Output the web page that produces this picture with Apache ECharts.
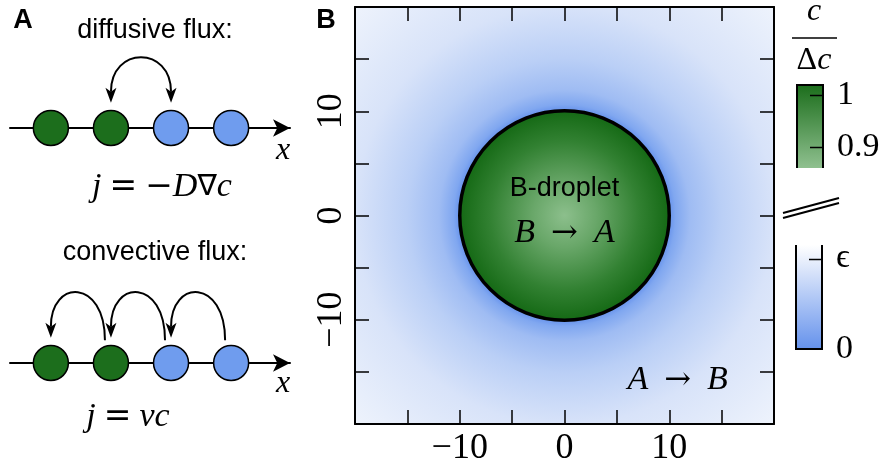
<!DOCTYPE html>
<html>
<head>
<meta charset="utf-8">
<script src="https://cdn.jsdelivr.net/npm/echarts@6/dist/echarts.min.js"></script>
<style>
  html, body { margin: 0; padding: 0; background: #fff; }
  #chart { width: 886px; height: 467px; }
</style>
</head>
<body>
<div id="chart"></div>
<script>
// ---- panel A: one-dimensional lattice ----
const sites = [1, 2, 3, 4];
const siteSpecies = ['B', 'B', 'A', 'A'];
const speciesColor = { B: '#1c6e1c', A: '#6f9cee' };
// hops as [from site, to site]
const diffusiveHops = [[2, 3]];
const convectiveHops = [[2, 1], [3, 2], [4, 3]];

// ---- panel B: droplet in its surrounding field ----
const fieldMin = -20;
const fieldMax = 20;
const fieldTickStep = 5;
const fieldLabelValues = [-10, 0, 10];
const dropletCentre = [0, 0];
const dropletRadius = 10;
// concentration outside the droplet, as colour stops over distance from the centre
const haloRadius = [10, 10.6, 12, 15, 20, 28.3];
const haloColor = ['#6692ec', '#80a7f0', '#9fbcf3', '#bacff6', '#d8e3f9', '#eef3fc'];
// inside the droplet, from centre (0) to rim (1)
const dropletStop = [0, 0.3, 0.7, 1];
const dropletColor = ['#8cbf8c', '#69a769', '#328132', '#136813'];

// ---- colour bars ----
const greenRange = [0.86, 1.02];
const greenTicks = [0.9, 1];
const greenColors = ['#8fc08f', '#1c6e1c'];   // bottom -> top
const blueRange = [0, 1.15];
const blueTicks = [1];
const blueLabelValues = [0, 1];
const blueLabelText = ['0', '\u03f5'];
const blueColors = ['#6592ec', '#ffffff'];    // bottom -> top

const SERIF = '"Liberation Serif", "DejaVu Serif", serif';
const SANS = '"Liberation Sans", Arial, sans-serif';
const OP_FONT = '"DejaVu Serif", serif';

const fmtMinus = v => (v < 0 ? '\u2212' + Math.abs(v) : String(v));

const chart = echarts.init(document.getElementById('chart'), null, { renderer: 'canvas' });

// frame axes of panel B
function fieldAxis(extra) {
  return Object.assign({
    gridIndex: 0, type: 'value', min: fieldMin, max: fieldMax, interval: fieldTickStep, z: 5,
    axisLine: { show: true, onZero: false, lineStyle: { color: '#000', width: 2 } },
    axisTick: { show: true, inside: true, length: 14, lineStyle: { color: '#000', width: 1.5 } },
    axisLabel: { show: false },
    splitLine: { show: false }
  }, extra);
}
const fieldLabel = {
  show: true, color: '#000', fontFamily: SERIF, fontSize: 36,
  formatter: v => (fieldLabelValues.indexOf(v) >= 0 ? fmtMinus(v) : '')
};

// lattice axes (the x arrow)
function latticeX(gi) {
  return {
    gridIndex: gi, type: 'value', min: 0.32, max: 4.98,
    axisLine: { show: true, onZero: false, symbol: ['none', 'arrow'], symbolSize: [13, 17],
      lineStyle: { color: '#000', width: 2 } },
    axisTick: { show: false }, axisLabel: { show: false }, splitLine: { show: false }
  };
}
function latticeY(gi) {
  return { gridIndex: gi, type: 'value', min: 0, max: 1.3, show: false };
}

// arch arrows between lattice sites
const HEAD_Y = 0.42, TAIL_Y = 0.38, TOP_Y = 1.18, TAIL_SHIFT = 0.1;
function arrowHead(tx, ty) {
  return {
    type: 'polygon',
    shape: { points: [[tx, ty], [tx - 5.5, ty - 15], [tx, ty - 11], [tx + 5.5, ty - 15]] },
    style: { fill: '#000' }
  };
}
function makeArchRenderer(both) {
  return function (params, api) {
    const from = api.value(0), to = api.value(1);
    const head = api.coord([to, HEAD_Y]);
    const tail = both ? api.coord([from, HEAD_Y]) : api.coord([from - TAIL_SHIFT, TAIL_Y]);
    const top = api.coord([0, TOP_Y])[1];
    const sy = both ? tail[1] - 11 : tail[1];
    const ey = head[1] - 11;
    const yc = (top - (sy + ey) / 8) / 0.75;
    const children = [{
      type: 'bezierCurve',
      shape: { x1: tail[0], y1: sy, cpx1: tail[0], cpy1: yc, cpx2: head[0], cpy2: yc, x2: head[0], y2: ey },
      style: { stroke: '#000', lineWidth: 2, fill: null }
    }, arrowHead(head[0], head[1])];
    if (both) children.push(arrowHead(tail[0], tail[1]));
    return { type: 'group', children: children };
  };
}

function siteData() {
  return sites.map((s, i) => ({ value: [s, 0], itemStyle: { color: speciesColor[siteSpecies[i]] } }));
}

// colour-bar body with an open end on the broken side, ticks on the right edge
function makeBarRenderer(range, colors, ticks, openTop) {
  return function (params, api) {
    const p0 = api.coord([0, range[1]]);
    const p1 = api.coord([1, range[0]]);
    const x0 = p0[0], y0 = p0[1], x1 = p1[0], y1 = p1[1];
    const border = openTop
      ? [[x0, y0], [x0, y1], [x1, y1], [x1, y0]]
      : [[x0, y1], [x0, y0], [x1, y0], [x1, y1]];
    const children = [{
      type: 'rect',
      shape: { x: x0, y: y0, width: x1 - x0, height: y1 - y0 },
      style: { fill: new echarts.graphic.LinearGradient(0, 1, 0, 0, [
        { offset: 0, color: colors[0] }, { offset: 1, color: colors[1] }]) }
    }, {
      type: 'polyline',
      shape: { points: border },
      style: { stroke: '#000', lineWidth: 2, fill: null }
    }];
    ticks.forEach(t => {
      const ty = Math.round(api.coord([1, t])[1]) + 0.5;
      children.push({
        type: 'line',
        shape: { x1: x1 - 13, y1: ty, x2: x1, y2: ty },
        style: { stroke: '#000', lineWidth: 1.5 }
      });
    });
    return { type: 'group', children: children };
  };
}

// rich-text styles for the formulas
const mathRich = {
  i: { fontStyle: 'italic', fontFamily: SERIF, fontSize: 34 },
  o: { fontFamily: OP_FONT, fontSize: 33 },
  a: { fontFamily: OP_FONT, fontSize: 32 },
  n: { fontFamily: '"Noto Sans", "DejaVu Sans", sans-serif', fontSize: 29 }
};
function mathText(x, y, text) {
  return { type: 'text', x: x, y: y, style: { text: text, fontFamily: SERIF, fontSize: 32,
    fill: '#000', align: 'center', verticalAlign: 'middle', rich: mathRich } };
}

const option = {
  animation: false,
  grid: [
    { left: 355, top: 7, width: 419, height: 419 },   // B: field
    { left: 10, top: 50, width: 280, height: 78 },    // A: diffusive
    { left: 10, top: 285, width: 280, height: 78 },   // A: convective
    { left: 797, top: 85, width: 26, height: 83 },    // green bar
    { left: 796, top: 245, width: 26, height: 104 }   // blue bar
  ],
  xAxis: [
    fieldAxis({ position: 'bottom', axisLabel: Object.assign({ margin: 7 }, fieldLabel) }),
    fieldAxis({ position: 'top' }),
    latticeX(1),
    latticeX(2),
    { gridIndex: 3, type: 'value', min: 0, max: 1, show: false },
    { gridIndex: 4, type: 'value', min: 0, max: 1, show: false }
  ],
  yAxis: [
    fieldAxis({ position: 'left', axisLabel: Object.assign({ margin: 5, rotate: 90 }, fieldLabel) }),
    fieldAxis({ position: 'right' }),
    latticeY(1),
    latticeY(2),
    {
      gridIndex: 3, type: 'value', position: 'right', min: greenRange[0], max: greenRange[1], z: 5,
      axisLine: { show: false },
      axisTick: { show: false },
      axisLabel: { show: true, customValues: greenTicks, margin: 14, color: '#000',
        fontFamily: SERIF, fontSize: 34, formatter: v => String(v) },
      splitLine: { show: false }
    },
    {
      gridIndex: 4, type: 'value', position: 'right', min: blueRange[0], max: blueRange[1], z: 5,
      axisLine: { show: false },
      axisTick: { show: false },
      axisLabel: { show: true, customValues: blueLabelValues, margin: 14, color: '#000',
        fontFamily: SERIF, fontSize: 34,
        formatter: v => blueLabelText[blueLabelValues.indexOf(v)] },
      splitLine: { show: false }
    }
  ],
  series: [
    {
      // concentration field around the droplet
      type: 'custom', xAxisIndex: 0, yAxisIndex: 0, silent: true, z: 1,
      data: [dropletCentre],
      renderItem: function (params, api) {
        const c = api.coord([api.value(0), api.value(1)]);
        const rMax = haloRadius[haloRadius.length - 1];
        const rPx = api.size([rMax, 0])[0];
        const cs = params.coordSys;
        const stops = haloRadius.map((r, i) => ({ offset: r / rMax, color: haloColor[i] }));
        stops.unshift({ offset: 0, color: haloColor[0] });
        return {
          type: 'rect',
          shape: { x: cs.x, y: cs.y, width: cs.width, height: cs.height },
          style: { fill: new echarts.graphic.RadialGradient(c[0], c[1], rPx, stops, true) }
        };
      }
    },
    {
      // the B-droplet
      type: 'custom', xAxisIndex: 0, yAxisIndex: 0, silent: true, z: 2,
      data: [dropletCentre],
      renderItem: function (params, api) {
        const c = api.coord([api.value(0), api.value(1)]);
        const r = api.size([dropletRadius, 0])[0];
        const stops = dropletStop.map((o, i) => ({ offset: o, color: dropletColor[i] }));
        const t1 = api.coord([0, 2.6]);
        const t2 = api.coord([0, -1.7]);
        const t3 = api.coord([10.8, -15.8]);
        return {
          type: 'group',
          children: [{
            type: 'circle',
            shape: { cx: c[0], cy: c[1], r: r },
            style: { fill: new echarts.graphic.RadialGradient(0.5, 0.5, 0.5, stops), stroke: '#000', lineWidth: 3.5 }
          }, {
            type: 'text', x: t1[0], y: t1[1],
            style: { text: 'B-droplet', fontFamily: SANS, fontSize: 27, fill: '#000',
              align: 'center', verticalAlign: 'middle' }
          },
          mathText(t2[0], t2[1], '{i|B}  {a|\u2192}  {i|A}'),
          mathText(t3[0], t3[1], '{i|A}  {a|\u2192}  {i|B}')]
        };
      }
    },
    // lattice sites
    {
      type: 'scatter', xAxisIndex: 2, yAxisIndex: 2, clip: false, z: 3, silent: true,
      symbol: 'circle', symbolSize: 35,
      itemStyle: { borderColor: '#000', borderWidth: 1.5, opacity: 1 },
      data: siteData()
    },
    {
      type: 'scatter', xAxisIndex: 3, yAxisIndex: 3, clip: false, z: 3, silent: true,
      symbol: 'circle', symbolSize: 35,
      itemStyle: { borderColor: '#000', borderWidth: 1.5, opacity: 1 },
      data: siteData()
    },
    // hops
    {
      type: 'custom', xAxisIndex: 2, yAxisIndex: 2, clip: false, silent: true, z: 3,
      data: diffusiveHops, renderItem: makeArchRenderer(true)
    },
    {
      type: 'custom', xAxisIndex: 3, yAxisIndex: 3, clip: false, silent: true, z: 3,
      data: convectiveHops, renderItem: makeArchRenderer(false)
    },
    // colour bars
    {
      type: 'custom', xAxisIndex: 4, yAxisIndex: 4, silent: true, z: 2,
      data: [greenRange], renderItem: makeBarRenderer(greenRange, greenColors, greenTicks, false)
    },
    {
      type: 'custom', xAxisIndex: 5, yAxisIndex: 5, silent: true, z: 2,
      data: [blueRange], renderItem: makeBarRenderer(blueRange, blueColors, blueTicks, true)
    }
  ],
  graphic: [
    // panel letters
    { type: 'text', x: 23, y: 21, style: { text: 'A', fontFamily: SANS, fontWeight: 'bold', fontSize: 27,
      fill: '#000', align: 'center', verticalAlign: 'middle' } },
    { type: 'text', x: 326, y: 21, style: { text: 'B', fontFamily: SANS, fontWeight: 'bold', fontSize: 27,
      fill: '#000', align: 'center', verticalAlign: 'middle' } },
    // panel A captions
    { type: 'text', x: 155, y: 31, style: { text: 'diffusive flux:', fontFamily: SANS, fontSize: 27,
      fill: '#000', align: 'center', verticalAlign: 'middle' } },
    { type: 'text', x: 155, y: 253, style: { text: 'convective flux:', fontFamily: SANS, fontSize: 27,
      fill: '#000', align: 'center', verticalAlign: 'middle' } },
    { type: 'text', x: 283, y: 151, style: { text: 'x', fontFamily: SERIF, fontStyle: 'italic', fontSize: 32,
      fill: '#000', align: 'center', verticalAlign: 'middle' } },
    { type: 'text', x: 283, y: 384, style: { text: 'x', fontFamily: SERIF, fontStyle: 'italic', fontSize: 32,
      fill: '#000', align: 'center', verticalAlign: 'middle' } },
    mathText(162, 187, '{i|j} {o|=} {o|\u2212}{i|D}{n|\u2207}{i|c}'),
    mathText(128, 417, '{i|j} {o|=} {i|vc}'),
    // colour-bar title c / Δc
    { type: 'text', x: 814, y: 12, style: { text: 'c', fontFamily: SERIF, fontStyle: 'italic', fontSize: 32,
      fill: '#000', align: 'center', verticalAlign: 'middle' } },
    { type: 'line', shape: { x1: 792, y1: 38, x2: 837, y2: 38 }, style: { stroke: '#000', lineWidth: 1.5 } },
    { type: 'text', x: 814, y: 61, style: { text: '\u0394{i|c}', fontFamily: SERIF, fontSize: 32,
      fill: '#000', align: 'center', verticalAlign: 'middle',
      rich: { i: { fontStyle: 'italic', fontFamily: SERIF, fontSize: 32 } } } },
    // axis break between the two bars
    { type: 'line', shape: { x1: 783, y1: 213, x2: 839, y2: 198 }, style: { stroke: '#000', lineWidth: 2 } },
    { type: 'line', shape: { x1: 783, y1: 218, x2: 839, y2: 203 }, style: { stroke: '#000', lineWidth: 2 } }
  ]
};

chart.setOption(option);
</script>
</body>
</html>
